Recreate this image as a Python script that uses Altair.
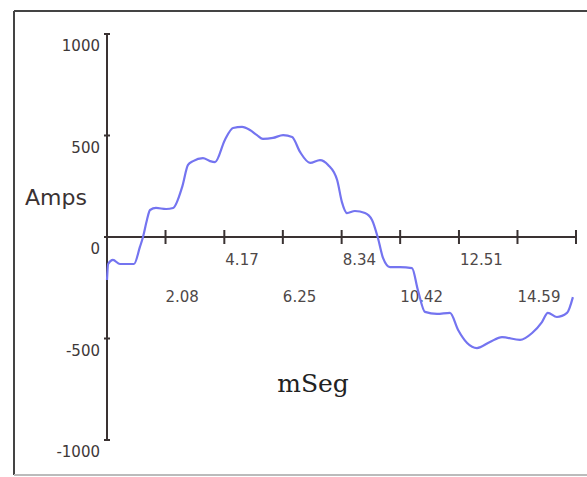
import altair as alt
import pandas as pd

# waveform (time in ms, current in A)
time_ms = [0.00, 0.04, 0.21, 0.46, 0.96, 1.17, 1.28, 1.42, 1.53, 1.74, 2.10, 2.35,
           2.67, 2.88, 3.06, 3.41, 3.66, 3.84, 4.19, 4.48, 4.80, 5.08, 5.33, 5.54,
           5.90, 6.26, 6.58, 6.86, 7.22, 7.57, 7.86, 8.18, 8.35, 8.53, 8.81, 9.17,
           9.42, 9.63, 9.81, 10.06, 10.41, 10.84, 11.05, 11.30, 11.73, 12.19, 12.48,
           12.80, 13.15, 13.61, 14.04, 14.68, 15.11, 15.46, 15.67, 15.99, 16.35, 16.56]
amps = [-212, -133, -113, -133, -133, -49, 0, 84, 133, 143, 138, 143,
        246, 355, 374, 389, 374, 369, 478, 537, 542, 527, 502, 483,
        488, 502, 493, 419, 365, 379, 355, 281, 172, 118, 128, 118,
        84, -5, -103, -148, -148, -153, -261, -369, -379, -374, -458,
        -522, -547, -517, -493, -507, -473, -419, -374, -394, -374, -296]

x_tick_values = [2.08, 4.17, 6.25, 8.34, 10.42, 12.51, 14.59, 16.67]
x_tick_labels = ["2.08", "4.17", "6.25", "8.34", "10.42", "12.51", "14.59", ""]
y_tick_values = [1000, 500, 0, -500, -1000]
y_tick_labels = ["1000", "500", "0", "-500", "-1000"]

W, H = 469, 406
AXIS = "#3a3232"
LINE = "#7474f0"

xs = alt.Scale(domain=[0, 16.67], nice=False, zero=False)
ys = alt.Scale(domain=[-1000, 1000], nice=False, zero=False)

wave = pd.DataFrame({"t": time_ms, "a": amps})
line = alt.Chart(wave).mark_line(color=LINE, strokeWidth=2.2, interpolate="monotone").encode(
    x=alt.X("t:Q", scale=xs, axis=None),
    y=alt.Y("a:Q", scale=ys, axis=None),
)

# x axis at zero
xaxis = alt.Chart(pd.DataFrame({"a": [0], "t0": [0.0], "t1": [16.67]})).mark_rule(
    color=AXIS, strokeWidth=2).encode(
    x=alt.X("t0:Q", scale=xs, axis=None), x2="t1:Q",
    y=alt.Y("a:Q", scale=ys, axis=None),
)
xt = pd.DataFrame({"t": x_tick_values, "a": [0] * len(x_tick_values), "lab": x_tick_labels})
xticks = alt.Chart(xt).mark_tick(orient="vertical", size=14, thickness=2, color=AXIS, opacity=1).encode(
    x=alt.X("t:Q", scale=xs, axis=None), y=alt.Y("a:Q", scale=ys, axis=None))
upper = xt.iloc[1::2]
lower = xt.iloc[0::2]
xlab_up = alt.Chart(upper).mark_text(align="left", baseline="middle", dy=23, dx=1,
                                     font="DejaVu Sans", fontSize=15, color="#4e4848").encode(
    x=alt.X("t:Q", scale=xs, axis=None), y=alt.Y("a:Q", scale=ys, axis=None), text="lab:N")
xlab_lo = alt.Chart(lower).mark_text(align="left", baseline="middle", dy=60, dx=0,
                                     font="DejaVu Sans", fontSize=15, color="#4e4848").encode(
    x=alt.X("t:Q", scale=xs, axis=None), y=alt.Y("a:Q", scale=ys, axis=None), text="lab:N")

# y axis at t = 0
yaxis = alt.Chart(pd.DataFrame({"t": [0.0], "lo": [-1000], "hi": [1000]})).mark_rule(
    color=AXIS, strokeWidth=2).encode(
    x=alt.X("t:Q", scale=xs, axis=None),
    y=alt.Y("lo:Q", scale=ys, axis=None), y2="hi:Q",
)
yt = pd.DataFrame({"a": y_tick_values, "t": [0.0] * len(y_tick_values), "lab": y_tick_labels})
yticks = alt.Chart(yt).mark_tick(orient="horizontal", size=6, thickness=2, color=AXIS, opacity=1).encode(
    x=alt.X("t:Q", scale=xs, axis=None), y=alt.Y("a:Q", scale=ys, axis=None))
ylab = alt.Chart(yt).mark_text(align="right", baseline="middle", dx=-7, dy=12,
                               font="DejaVu Sans", fontSize=15, color="#3e3838").encode(
    x=alt.X("t:Q", scale=xs, axis=None), y=alt.Y("a:Q", scale=ys, axis=None), text="lab:N")

# titles
amps_title = alt.Chart(pd.DataFrame({"s": ["Amps"]})).mark_text(
    font="DejaVu Sans", fontSize=22, color=AXIS, align="center", baseline="alphabetic").encode(
    x=alt.value(-51), y=alt.value(171), text="s:N")
mseg_title = alt.Chart(pd.DataFrame({"s": ["mSeg"]})).mark_text(
    font="DejaVu Serif", fontSize=25, color="#222222", align="center", baseline="alphabetic").encode(
    x=alt.value(206), y=alt.value(358), text="s:N")

# outer frame
frame_df = pd.DataFrame({"k": [0]})
frame_top = alt.Chart(frame_df).mark_rule(color="#444444", strokeWidth=2).encode(
    x=alt.value(-93), x2=alt.value(482), y=alt.value(-23))
frame_left = alt.Chart(frame_df).mark_rule(color="#444444", strokeWidth=2).encode(
    x=alt.value(-93), y=alt.value(-23), y2=alt.value(441))
frame_bottom = alt.Chart(frame_df).mark_rule(color="#bbbbbb", strokeWidth=2).encode(
    x=alt.value(-93), x2=alt.value(482), y=alt.value(441))

chart = alt.layer(
    frame_top, frame_left, frame_bottom,
    xaxis, yaxis, xticks, yticks, xlab_up, xlab_lo, ylab,
    amps_title, mseg_title, line,
).properties(
    width=W, height=H,
    padding={"left": 107, "top": 34, "right": 11, "bottom": 37},
    autosize=alt.AutoSizeParams(type="none"),
    background="white",
).configure_view(stroke=None)

chart.save("out.html", embed_options={"renderer": "svg", "actions": False})
